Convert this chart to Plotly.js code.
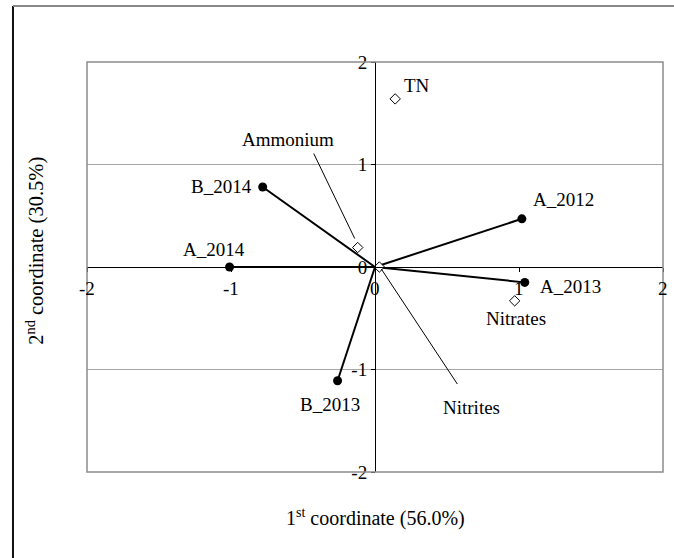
<!DOCTYPE html>
<html>
<head>
<meta charset="utf-8">
<script src="https://cdn.plot.ly/plotly-3.0.1.min.js"></script>
<style>html,body{margin:0;padding:0;background:#fff;}#chart{width:674px;height:558px;}</style>
</head>
<body>
<div id="chart"></div>
<script>
// ---- data ----
var samples = ['A_2012', 'A_2013', 'A_2014', 'B_2013', 'B_2014'];
var sampleX = [1.02, 1.04, -1.01, -0.26, -0.78];
var sampleY = [0.47, -0.15, 0.00, -1.11, 0.78];

var variables = ['TN', 'Ammonium', 'Nitrates', 'Nitrites'];
var varX = [0.14, -0.12, 0.97, 0.03];
var varY = [1.64, 0.19, -0.33, 0.00];

var tickVals = [-2, -1, 0, 1, 2];
var tickText = ['-2', '-1', '0', '1', '2'];

var xTitle = '1<sup>st</sup> coordinate (56.0%)';
var yTitle = '2<sup>nd</sup> coordinate (30.5%)';

// ---- styling / positions ----
var FONT = 'Liberation Serif';
var labelShift = {
  'A_2012': [42, 19], 'A_2013': [46, -4], 'A_2014': [-16, 18],
  'B_2013': [-8, -24], 'B_2014': [-41, 1],
  'TN': [22, 13], 'Nitrates': [1, -18], 'Ammonium': [-70, 108], 'Nitrites': [92, -140]
};
var leader = {
  'Ammonium': [-3, 9, -44, 94],
  'Nitrites': [2, -2, 78, -117]
};

// lines from origin to samples
var lx = [], ly = [];
for (var i = 0; i < samples.length; i++) {
  lx.push(0, sampleX[i], null);
  ly.push(0, sampleY[i], null);
}

var traces = [
  {x: lx, y: ly, mode: 'lines', line: {color: '#000', width: 2}, hoverinfo: 'skip', showlegend: false, cliponaxis: false},
  {x: sampleX, y: sampleY, mode: 'markers', marker: {symbol: 'circle', size: 9, color: '#000'}, text: samples, showlegend: false, cliponaxis: false},
  {x: varX, y: varY, mode: 'markers', marker: {symbol: 'diamond', size: 8, color: '#fff', line: {color: '#000', width: 1}}, text: variables, showlegend: false, cliponaxis: false}
];

var annotations = [];
function addLabel(name, x, y) {
  var s = labelShift[name];
  annotations.push({x: x, y: y, xref: 'x', yref: 'y', text: name, showarrow: false,
    xshift: s[0], yshift: s[1], xanchor: 'center', yanchor: 'middle',
    font: {family: FONT, size: 19, color: '#000'}});
}
for (var i = 0; i < samples.length; i++) addLabel(samples[i], sampleX[i], sampleY[i]);
for (var j = 0; j < variables.length; j++) addLabel(variables[j], varX[j], varY[j]);

// x tick labels placed just under the zero line
for (var k = 0; k < tickVals.length; k++) {
  annotations.push({x: tickVals[k], y: 0, xref: 'x', yref: 'y', text: tickText[k], showarrow: false,
    xanchor: 'center', yanchor: 'middle', yshift: -21,
    font: {family: FONT, size: 19, color: '#000'}});
}

annotations.push({xref: 'paper', yref: 'paper', x: 0.5, y: -0.112, text: xTitle, showarrow: false,
  xanchor: 'center', yanchor: 'middle', font: {family: FONT, size: 20, color: '#000'}});
annotations.push({xref: 'paper', yref: 'paper', x: -0.09, y: 0.54, text: yTitle, showarrow: false,
  textangle: -90, xanchor: 'center', yanchor: 'middle', font: {family: FONT, size: 20.5, color: '#000'}});

var shapes = [];
// outer frame
shapes.push({type: 'line', xref: 'paper', yref: 'paper', x0: -0.1285, x1: -0.1285, y0: 1.1366, y1: -0.25, line: {color: '#111', width: 2}});
shapes.push({type: 'line', xref: 'paper', yref: 'paper', x0: -0.1285, x1: 1.05, y0: 1.1366, y1: 1.1366, line: {color: '#888', width: 2}});
// plot border
shapes.push({type: 'rect', xref: 'paper', yref: 'paper', x0: 0, x1: 1, y0: 0, y1: 1, line: {color: '#8c8c8c', width: 1.5}, layer: 'above'});
// leader lines
for (var j = 0; j < variables.length; j++) {
  var L = leader[variables[j]];
  if (!L) continue;
  shapes.push({type: 'line', xref: 'x', yref: 'y', xsizemode: 'pixel', ysizemode: 'pixel',
    xanchor: varX[j], yanchor: varY[j], x0: L[0], y0: L[1], x1: L[2], y1: L[3],
    line: {color: '#000', width: 1}});
}

var axisFont = {family: FONT, size: 19, color: '#000'};
var layout = {
  width: 674, height: 558,
  margin: {l: 87, r: 11, t: 62, b: 86, pad: 0},
  paper_bgcolor: '#fff', plot_bgcolor: '#fff',
  font: {family: FONT},
  showlegend: false,
  xaxis: {range: [-2, 2], anchor: 'free', position: 0.5, tickvals: tickVals, ticktext: tickText,
    showticklabels: false,
    showline: true, linecolor: '#000', linewidth: 1, zeroline: false, showgrid: false,
    ticks: 'outside', ticklen: 4, tickcolor: '#000', fixedrange: true},
  yaxis: {range: [-2, 2], anchor: 'free', position: 0.5, tickvals: tickVals, ticktext: tickText,
    showline: true, linecolor: '#000', linewidth: 1, zeroline: false, showgrid: true, gridcolor: '#a6a6a6', gridwidth: 1,
    ticks: 'outside', ticklen: 4, tickcolor: '#000', tickfont: axisFont, fixedrange: true},
  annotations: annotations,
  shapes: shapes
};

Plotly.newPlot('chart', traces, layout, {displayModeBar: false, staticPlot: true});
</script>
</body>
</html>
